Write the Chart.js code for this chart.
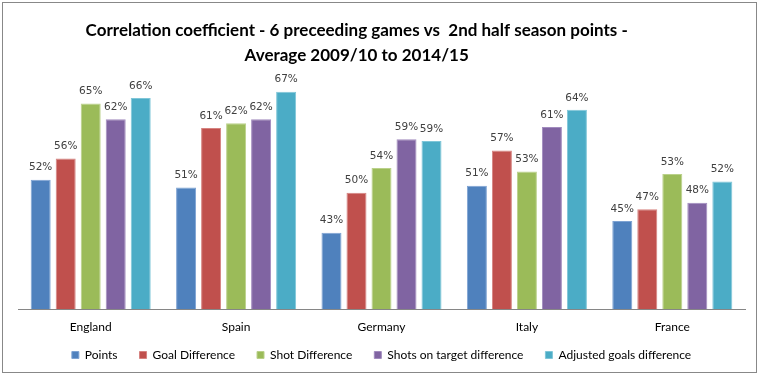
<!DOCTYPE html>
<html>
<head>
<meta charset="utf-8">
<script src="https://cdn.jsdelivr.net/npm/chart.js@4.4.1/dist/chart.umd.min.js"></script>
<style>
  html, body { margin: 0; padding: 0; background: #fff; }
  #wrap { position: relative; width: 762px; height: 378px; }
  #frame { position: absolute; left: 2px; top: 2px; width: 753px; height: 369px; border: 1px solid #888; }
  #chart { position: absolute; left: 0; top: 0; }
</style>
</head>
<body>
<div id="wrap">
  <div id="frame"></div>
  <canvas id="chart" width="762" height="378"></canvas>
</div>
<script>
// countries and correlation values (in %)
const countries = ['England', 'Spain', 'Germany', 'Italy', 'France'];
const points = [52, 50.7, 43, 51, 45];
const goalDiff = [55.6, 60.8, 49.8, 57, 47];
const shotDiff = [65, 61.6, 54, 53.4, 53];
const shotsOnTarget = [62.3, 62.3, 58.9, 61, 48.1];
const adjGoals = [65.9, 67, 58.6, 63.9, 51.7];

const seriesNames = ['Points', 'Goal Difference', 'Shot Difference', 'Shots on target difference', 'Adjusted goals difference'];
const seriesValues = [points, goalDiff, shotDiff, shotsOnTarget, adjGoals];
const fills = ['#4F81BD', '#C0504D', '#9BBB59', '#8064A2', '#4BACC6'];
const edges = ['#7EA3D3', '#D68380', '#BAD18A', '#A18BBE', '#7FC6D8'];

// trailing spaces push the title a bit left, like in the original
const pad = '            ';
const titleLines = [
    'Correlation coefficient - 6 preceeding games vs  2nd half season points -' + pad,
    'Average 2009/10 to 2014/15' + pad
];

const uiFont = 'Lato, "Open Sans", sans-serif';

// labels above each bar
const barLabels = {
    id: 'barLabels',
    afterDatasetsDraw(chart) {
        const ctx = chart.ctx;
        ctx.save();
        ctx.font = '10.5px "DejaVu Sans", sans-serif';
        ctx.fillStyle = '#404040';
        ctx.textAlign = 'center';
        ctx.textBaseline = 'middle';
        chart.data.datasets.forEach((ds, i) => {
            chart.getDatasetMeta(i).data.forEach((bar, j) => {
                ctx.fillText(Math.round(ds.data[j]) + '%', bar.x, bar.y - 12);
            });
        });
        ctx.restore();
    }
};

// the x scale is kept short so the legend sits low; widen its label clip box again
const labelRoom = {
    id: 'labelRoom',
    afterLayout(chart) {
        chart.scales.x.bottom += 14;
    }
};

const ctx = document.getElementById('chart').getContext('2d');
const myChart = new Chart(ctx, {
    type: 'bar',
    data: {
        labels: countries,
        datasets: seriesNames.map((name, i) => ({
            label: name,
            data: seriesValues[i],
            backgroundColor: fills[i],
            borderColor: edges[i],
            borderWidth: 1,
            categoryPercentage: 0.86,
            barPercentage: 0.8
        }))
    },
    options: {
        responsive: false,
        animation: false,
        layout: {
            padding: { left: 18, right: 17, top: 0, bottom: 7 }
        },
        scales: {
            x: {
                grid: { display: false, drawTicks: false },
                border: { display: true, color: '#868686', width: 1 },
                ticks: {
                    color: '#000',
                    padding: 18,
                    font: { family: uiFont, size: 12, lineHeight: 0.05 }
                },
                afterFit: (scale) => { scale.height = 18; }
            },
            y: {
                display: false,
                min: 30,
                max: 70
            }
        },
        plugins: {
            title: {
                display: true,
                text: titleLines,
                color: '#000',
                font: { family: uiFont, size: 17, weight: 'bold', lineHeight: '25px' },
                padding: { top: 18, bottom: 6 }
            },
            legend: {
                position: 'bottom',
                labels: {
                    color: '#000',
                    boxWidth: 7,
                    boxHeight: 7,
                    padding: 22,
                    font: { family: uiFont, size: 12 }
                }
            },
            tooltip: { enabled: false }
        }
    },
    plugins: [barLabels, labelRoom]
});
</script>
</body>
</html>
